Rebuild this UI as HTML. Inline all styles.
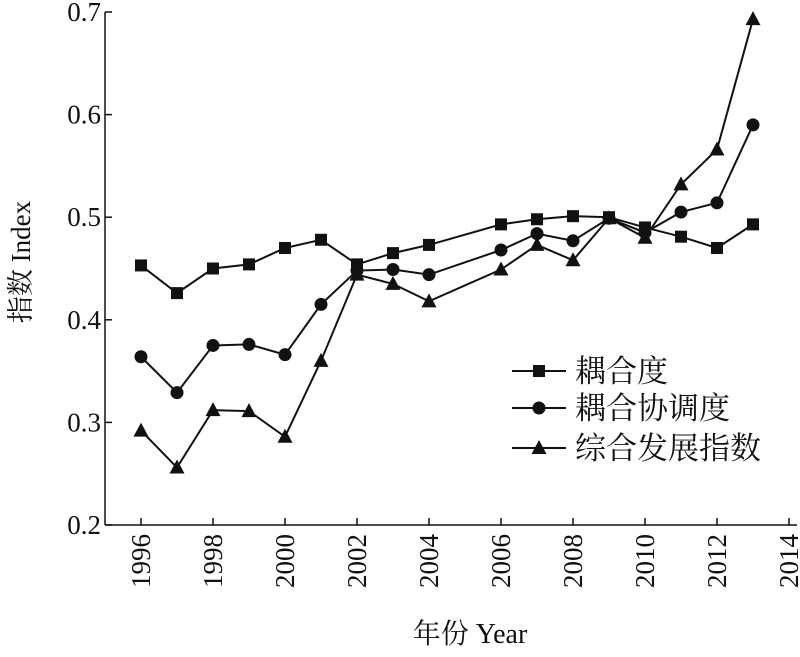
<!DOCTYPE html>
<html><head><meta charset="utf-8"><style>
body{margin:0;background:#fff;}
svg text{font-family:"Liberation Serif","Noto Serif CJK SC","Noto Sans CJK SC",serif;fill:#111;}
</style></head><body>
<svg id="chart" width="800" height="652" viewBox="0 0 800 652" xmlns="http://www.w3.org/2000/svg"></svg>
<script>
const years=[1996,1997,1998,1999,2000,2001,2002,2003,2004,2006,2007,2008,2009,2010,2011,2012,2013];
const coupling=[0.453,0.426,0.450,0.454,0.470,0.478,0.454,0.465,0.473,0.493,0.498,0.501,0.500,0.490,0.481,0.470,0.493];
const coordination=[0.364,0.329,0.375,0.376,0.366,0.415,0.448,0.449,0.444,0.468,0.484,0.477,0.499,0.485,0.505,0.514,0.590];
const composite=[0.292,0.256,0.312,0.311,0.286,0.360,0.444,0.435,0.418,0.449,0.473,0.458,0.499,0.480,0.532,0.566,0.693];
const xTicks=[1996,1998,2000,2002,2004,2006,2008,2010,2012,2014];
const yTicks=[0.2,0.3,0.4,0.5,0.6,0.7];
const seriesNames=["耦合度","耦合协调度","综合发展指数"];

const svg=document.getElementById('chart');
const NS="http://www.w3.org/2000/svg";
const L=105,B=525,T=12;
const x=v=>141+(v-1996)*36;
const y=v=>B-(v-0.2)/0.5*(B-T);
function mk(tag,attrs,parent){const e=document.createElementNS(NS,tag);for(const k in attrs)e.setAttribute(k,attrs[k]);(parent||svg).appendChild(e);return e;}

const axes=mk('g',{});


mk('line',{x1:L,y1:T,x2:L,y2:B,stroke:'#111','stroke-width':1.5},axes);
mk('line',{x1:L,y1:B,x2:797,y2:B,stroke:'#111','stroke-width':1.5},axes);
yTicks.forEach(v=>{
  mk('line',{x1:L,y1:y(v),x2:L+7,y2:y(v),stroke:'#111','stroke-width':1.5},axes);
  const t=mk('text',{x:L-4,y:y(v)+9,'text-anchor':'end','font-size':27},axes);
  t.textContent=v.toFixed(1);
  
  
});
xTicks.forEach(v=>{
  mk('line',{x1:x(v),y1:B,x2:x(v),y2:B-7,stroke:'#111','stroke-width':1.5},axes);
  const t=mk('text',{x:0,y:0,'text-anchor':'end','font-size':27,transform:`translate(${x(v)+9},${B+9}) rotate(-90)`},axes);
  t.textContent=v;
  
  
});
const yt=mk('text',{x:0,y:0,'text-anchor':'middle','font-size':27,transform:`translate(30,262) rotate(-90)`});
yt.textContent='指数 Index';


const xt=mk('text',{x:470,y:643,'text-anchor':'middle','font-size':28});
xt.textContent='年份 Year';



function marker(kind,cx,cy,g){
  if(kind===0) mk('rect',{x:cx-6,y:cy-6,width:12,height:12,fill:'#111'},g);
  else if(kind===1) mk('circle',{cx:cx,cy:cy,r:6.5,fill:'#111'},g);
  else mk('polygon',{points:`${cx},${cy-8} ${cx-7.5},${cy+6} ${cx+7.5},${cy+6}`,fill:'#111'},g);
}
const all=[coupling,coordination,composite];
const snames=['series-coupling','series-coordination','series-composite'];
all.forEach((vals,k)=>{
  const g=mk('g',{});
  
  
  mk('polyline',{points:years.map((yr,i)=>x(yr)+','+y(vals[i])).join(' '),fill:'none',stroke:'#111','stroke-width':2},g);
  years.forEach((yr,i)=>marker(k,x(yr),y(vals[i]),g));
});
const lg=mk('g',{});


const ly=[371,408,448];
seriesNames.forEach((n,k)=>{
  const e=mk('g',{},lg);
  
  
  mk('line',{x1:512,y1:ly[k],x2:566,y2:ly[k],stroke:'#111','stroke-width':2},e);
  marker(k,539,ly[k],e);
  const t=mk('text',{x:575,y:ly[k]+11,'font-size':31},e);
  t.textContent=n;
});
</script>
</body></html>
